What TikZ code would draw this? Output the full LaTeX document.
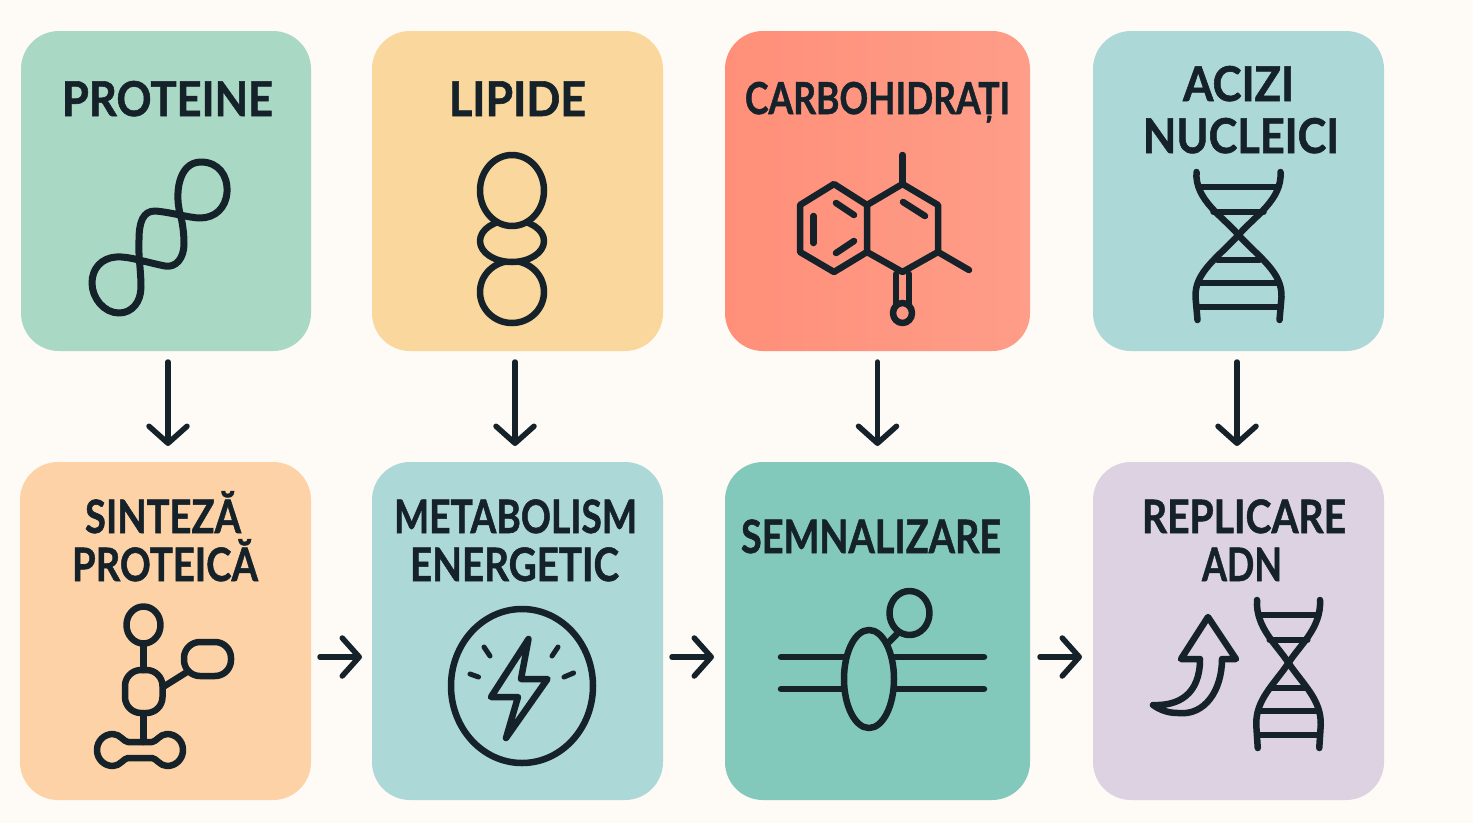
\documentclass[tikz,border=0pt]{standalone}
\usepackage{fontspec}
\usepackage{graphicx}
\setmainfont[BoldFont={Lato Bold},BoldFeatures={FakeBold=1.2}]{Lato}
\usetikzlibrary{arrows.meta}
\definecolor{bgc}{HTML}{FEFAF5}
\definecolor{ink}{HTML}{16222A}
\definecolor{cgreen}{HTML}{A9D8C4}
\definecolor{cyellow}{HTML}{FAD79C}
\definecolor{ccoralA}{HTML}{FF8F79}
\definecolor{ccoralB}{HTML}{FE9D88}
\definecolor{cblue}{HTML}{ADD8D8}
\definecolor{cpeach}{HTML}{FDD2A6}
\definecolor{cteal}{HTML}{82C9BC}
\definecolor{clav}{HTML}{DCD2E2}
\newcommand{\fitlabel}[2]{\resizebox{#1pt}{\height}{#2}}
\newcommand{\dnaicon}[4]{%
  \begin{scope}[shift={(#1,#2)},xscale=#3,yscale=#4,icon]
    \draw (-42,0) .. controls (-44,28) and (-15,45) .. (0,63) .. controls (20,85) and (44,100) .. (43,125) -- (41,148);
    \draw (42,0) .. controls (44,28) and (15,45) .. (0,63) .. controls (-20,85) and (-44,100) .. (-43,125) -- (-41,148);
    \draw (-38,15) -- (38,15);
    \draw (-25,40) -- (25,40);
    \draw (-21,88) -- (21,88);
    \draw (-38,111) -- (38,111);
    \draw (-40,135) -- (40,135);
  \end{scope}}
\tikzset{
  card/.style={inner sep=0pt,outer sep=0pt,rounded corners=38pt,draw=none},
  icon/.style={draw=ink,line width=6.5pt,line cap=round,line join=round},
  title/.style={anchor=base,text=ink,inner sep=0pt,font=\fontsize{46}{46}\selectfont\bfseries},
  flow/.style={draw=ink,line width=5.5pt,line cap=round,line join=round,
    -{Straight Barb[length=17pt,width=38pt,round]}},
}
\begin{document}
\begin{tikzpicture}[x=1pt,y=-1pt]
\path[use as bounding box,fill=bgc] (0,0) rectangle (1473,823);
% cards
\node[card,fill=cgreen,minimum width=290pt,minimum height=320pt] (pro) at (166,191) {};
\node[card,fill=cyellow,minimum width=291pt,minimum height=320pt] (lip) at (517.5,191) {};
\node[card,left color=ccoralA,right color=ccoralB,minimum width=305pt,minimum height=320pt] (car) at (877.5,191) {};
\node[card,fill=cblue,minimum width=291pt,minimum height=320pt] (aci) at (1238.5,191) {};
\node[card,fill=cpeach,minimum width=291pt,minimum height=338pt] (sin) at (165.5,631) {};
\node[card,fill=cblue,minimum width=291pt,minimum height=338pt] (met) at (517.5,631) {};
\node[card,fill=cteal,minimum width=305pt,minimum height=338pt] (sem) at (877.5,631) {};
\node[card,fill=clav,minimum width=291pt,minimum height=338pt] (rep) at (1238.5,631) {};
% titles
\node[title,font=\fontsize{48}{48}\selectfont\bfseries] (t1) at (167.5,116) {\fitlabel{211}{PROTEINE}};
\node[title,font=\fontsize{48}{48}\selectfont\bfseries] (t2) at (517.5,116) {\fitlabel{137}{LIPIDE}};
\node[title,font=\fontsize{44}{44}\selectfont\bfseries] (t3) at (877.5,114) {\fitlabel{265}{CARBOHIDRAȚI}};
\node[title,font=\fontsize{48}{48}\selectfont\bfseries] (t4a) at (1238.5,101) {\fitlabel{111}{ACIZI}};
\node[title,font=\fontsize{48}{48}\selectfont\bfseries] (t4b) at (1241,153) {\fitlabel{196}{NUCLEICI}};
\node[title] (t5a) at (163,533) {\fitlabel{156}{SINTEZĂ}};
\node[title] (t5b) at (165,581) {\fitlabel{186}{PROTEICĂ}};
\node[title] (t6a) at (515.5,533) {\fitlabel{243}{METABOLISM}};
\node[title] (t6b) at (514.5,581) {\fitlabel{209}{ENERGETIC}};
\node[title] (t7) at (871,553) {\fitlabel{260}{SEMNALIZARE}};
\node[title] (t8a) at (1244,533) {\fitlabel{204}{REPLICARE}};
\node[title] (t8b) at (1242,581) {\fitlabel{80}{ADN}};
% protein icon
\draw[icon,line width=7pt] (181,217)
  .. controls (174,195) and (178,162) .. (201,162)
  .. controls (218,162) and (228,175) .. (227,192)
  .. controls (226,208) and (215,218) .. (200,218)
  .. controls (190,218) and (170,212) .. (155,211)
  .. controls (143,211) and (139,222) .. (139,240)
  .. controls (138,255) and (141,270) .. (141,287)
  .. controls (141,302) and (132,313) .. (119,313)
  .. controls (104,313) and (92,298) .. (92,283)
  .. controls (92,268) and (102,258) .. (116,257)
  .. controls (128,256) and (145,262) .. (165,266)
  .. controls (176,268) and (184,258) .. (184,244)
  .. controls (184,235) and (183,226) .. (181,217) -- cycle;
% lipid icon
\draw[icon] (512,292) circle[x radius=32pt,y radius=31pt];
\draw[icon,fill=cyellow] (512,241) circle[x radius=32pt,y radius=21pt];
\draw[icon,fill=cyellow] (512,190.5) circle[x radius=32pt,y radius=35.5pt];
% molecule icon
\draw[icon] (834,184) -- (867,205) -- (867,252) -- (834,272) -- (800,252) -- (800,205) -- cycle;
\draw[icon] (867,205) -- (902.5,184) -- (938,205) -- (938,252) -- (902.5,272) -- (867,252);
\draw[icon] (902.5,155) -- (902.5,184);
\draw[icon] (938,252) -- (969,270);
\draw[icon] (836,203) -- (854,215);
\draw[icon] (813.5,216) -- (813.5,243);
\draw[icon] (836,253) -- (854,241);
\draw[icon] (903,202) -- (925,216);
\draw[icon] (896,274) -- (896,306);
\draw[icon] (909,274) -- (909,306);
\draw[icon] (902.5,313) circle[x radius=9.5pt,y radius=10pt];
% dna icons
\dnaicon{1238.5}{172}{1}{1}
\dnaicon{1288.5}{600}{0.75}{1}
% protein-synthesis icon
\draw[icon] (143.5,625) circle[x radius=17pt,y radius=18.5pt];
\draw[icon] (143.5,644) -- (143.5,670);
\draw[icon,rounded corners=16pt] (125,670) rectangle (162.5,713);
\draw[icon,rounded corners=16pt] (184,642) rectangle (231,676);
\draw[icon] (163,687) -- (187,672);
\draw[icon] (143.5,713) -- (143.5,742);
\draw[icon] (128,742) -- (152,742)
  .. controls (156,742) and (160,734) .. (167,734)
  .. controls (176,734) and (183,741) .. (183,750)
  .. controls (183,759) and (176,766) .. (167,766)
  .. controls (160,766) and (156,758) .. (152,758)
  -- (128,758)
  .. controls (124,758) and (120,766) .. (113,766)
  .. controls (104,766) and (97,759) .. (97,750)
  .. controls (97,741) and (104,734) .. (113,734)
  .. controls (120,734) and (124,742) .. (128,742) -- cycle;
% energy icon
\draw[icon] (522,686) circle[x radius=71pt,y radius=77pt];
\draw[icon] (528.5,639) -- (491,697) -- (518,697) -- (506,738) -- (547.5,679) -- (521,679) -- cycle;
\draw[icon,line width=5pt] (484,647) -- (490,656);
\draw[icon,line width=5pt] (558,647) -- (552,656);
\draw[icon,line width=5pt] (470,674) -- (478.5,677);
\draw[icon,line width=5pt] (573.5,673) -- (564,677);
% signalling icon
\draw[icon] (781,657) -- (844,657);
\draw[icon] (781,689) -- (844,689);
\draw[icon] (895,657) -- (984,657);
\draw[icon] (895,689) -- (984,689);
\draw[icon] (869,679) circle[x radius=25pt,y radius=49pt];
\draw[icon] (909.5,613) circle[x radius=20pt,y radius=22pt];
\draw[icon] (888,643) -- (897,634);
% replication arrow icon
\draw[icon] (1208,617) -- (1236,659) -- (1222,659)
  .. controls (1222,690) and (1205,716) .. (1178,713)
  .. controls (1168,713) and (1160,710) .. (1153,705)
  .. controls (1178,706) and (1200,695) .. (1200,659)
  -- (1181,659) -- cycle;
% connectors
\draw[flow,shorten <=11pt,shorten >=16pt] ([xshift=2pt]pro.south) -- ([xshift=2.5pt]sin.north);
\draw[flow,shorten <=11pt,shorten >=16pt] ([xshift=-2.5pt]lip.south) -- ([xshift=-2.5pt]met.north);
\draw[flow,shorten <=11pt,shorten >=16pt] (car.south) -- (sem.north);
\draw[flow,shorten <=11pt,shorten >=16pt] ([xshift=-1.5pt]aci.south) -- ([xshift=-1.5pt]rep.north);
\draw[flow,shorten <=9pt,shorten >=10pt] (sin.east |- 0,657) -- (met.west |- 0,657);
\draw[flow,shorten <=9pt,shorten >=11pt] (met.east |- 0,657) -- (sem.west |- 0,657);
\draw[flow,shorten <=10pt,shorten >=11pt] (sem.east |- 0,657) -- (rep.west |- 0,657);
\end{tikzpicture}
\end{document}
